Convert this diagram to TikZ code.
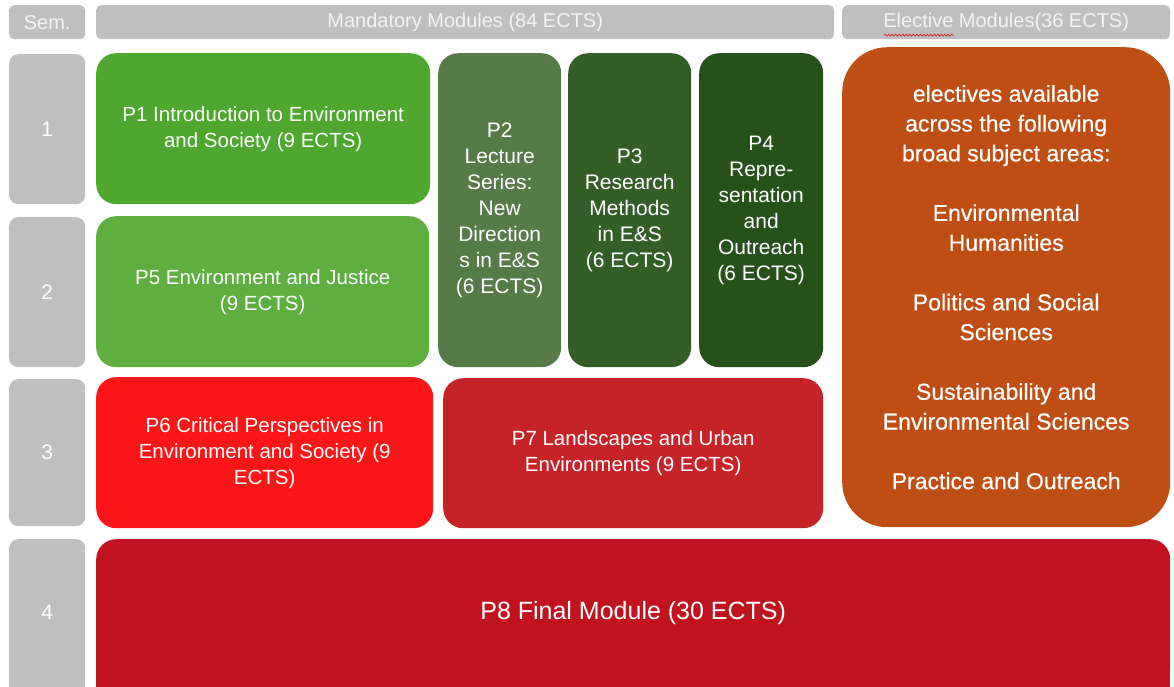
\documentclass[tikz,border=0pt]{standalone}
\usepackage{fontspec}
\setmainfont{Liberation Sans}
\newfontfamily\electfont[FakeBold=0.5]{Liberation Sans}
\usetikzlibrary{decorations.pathmorphing}

\definecolor{semgray}{HTML}{BFBFBF}
\definecolor{hdrtext}{HTML}{F4F4F4}
\definecolor{pone}{HTML}{4EA72E}
\definecolor{pfive}{HTML}{5EAE40}
\definecolor{ptwo}{HTML}{567A48}
\definecolor{pthree}{HTML}{345E28}
\definecolor{pfour}{HTML}{27511B}
\definecolor{elect}{HTML}{BF4E14}
\definecolor{psix}{HTML}{FD1517}
\definecolor{pseven}{HTML}{C62328}
\definecolor{peight}{HTML}{C0121F}
\definecolor{squig}{HTML}{E0282A}

\begin{document}
\begin{tikzpicture}[x=1pt,y=-1pt,
    hdr/.style={fill=semgray,rounded corners=5pt,text=hdrtext,anchor=north west,
      inner sep=0pt,minimum height=34pt,font=\fontsize{20}{24}\selectfont},
    sembox/.style={fill=semgray,rounded corners=9pt,text=white,anchor=north west,
      inner sep=0pt,minimum width=76pt,font=\fontsize{21}{25}\selectfont},
    modbox/.style={rounded corners=20pt,text=white,anchor=north west,align=center,
      inner sep=0pt,font=\fontsize{20.5}{26}\selectfont},
    colbox/.style={modbox,minimum height=314pt,font=\fontsize{21}{26}\selectfont}]
        \useasboundingbox (0,0) rectangle (1174,686);
        \clip (0,0) rectangle (1174,686);
        %% column heads
        \node[hdr,minimum width=76pt] (semhdr) at (9,5) {Sem.};
        \node[hdr,minimum width=738pt] (manhdr) at (96,5) {Mandatory Modules (84 ECTS)};
        \node[hdr,minimum width=328pt] (elhdr) at (842,5) {Elective Modules(36 ECTS)};
        \draw[squig,line width=0.8pt,decorate,decoration={snake,amplitude=0.9pt,segment length=3.5pt}]
            ([xshift=-122pt,yshift=-13pt]elhdr.center) -- ++(70,0);
        %% semesters
        \node[sembox,minimum height=150pt] (s1) at (9,54) {1};
        \node[sembox,minimum height=150pt] (s2) at (9,217) {2};
        \node[sembox,minimum height=147pt] (s3) at (9,379) {3};
        \fill[semgray] (9,612) rectangle (85,700);
        \node[sembox,minimum height=146pt] (s4) at (9,539) {4};
        %% semesters 1 and 2
        \node[modbox,fill=pone,minimum width=334pt,minimum height=151pt] (p1) at (96,53)
            {P1 Introduction to Environment\\and Society (9 ECTS)};
        \node[modbox,fill=pfive,minimum width=333pt,minimum height=151pt] (p5) at (96,216)
            {P5 Environment and Justice\\(9 ECTS)};
        \node[colbox,fill=ptwo,minimum width=123pt] (p2) at (438,53)
            {P2\\Lecture\\Series:\\New\\Direction\\s in E\&S\\(6 ECTS)};
        \node[colbox,fill=pthree,minimum width=123pt] (p3) at (568,53)
            {P3\\Research\\Methods\\in E\&S\\(6 ECTS)};
        \node[colbox,fill=pfour,minimum width=124pt] (p4) at (699,53)
            {P4\\Repre-\\sentation\\and\\Outreach\\(6 ECTS)};
        %% electives
        \node[modbox,fill=elect,rounded corners=45pt,minimum width=328pt,minimum height=480pt,
            font=\electfont\fontsize{23}{29.8}\selectfont] (el) at (842,47)
            {electives available\\across the following\\broad subject areas:\\[29.8pt]
             Environmental\\Humanities\\[29.8pt]
             Politics and Social\\Sciences\\[29.8pt]
             Sustainability and\\Environmental Sciences\\[29.8pt]
             Practice and Outreach};
        %% semester 3
        \node[modbox,fill=psix,minimum width=337pt,minimum height=151pt] (p6) at (96,377)
            {P6 Critical Perspectives in\\Environment and Society (9\\ECTS)};
        \node[modbox,fill=pseven,minimum width=380pt,minimum height=150pt] (p7) at (443,378)
            {P7 Landscapes and Urban\\Environments (9 ECTS)};
        %% semester 4
        \fill[peight] (96,612) rectangle (1170,700);
        \node[modbox,fill=peight,minimum width=1074pt,minimum height=148pt,
            font=\fontsize{25}{30}\selectfont] (p8) at (96,539) {P8 Final Module (30 ECTS)};
    \end{tikzpicture}
\end{document}
